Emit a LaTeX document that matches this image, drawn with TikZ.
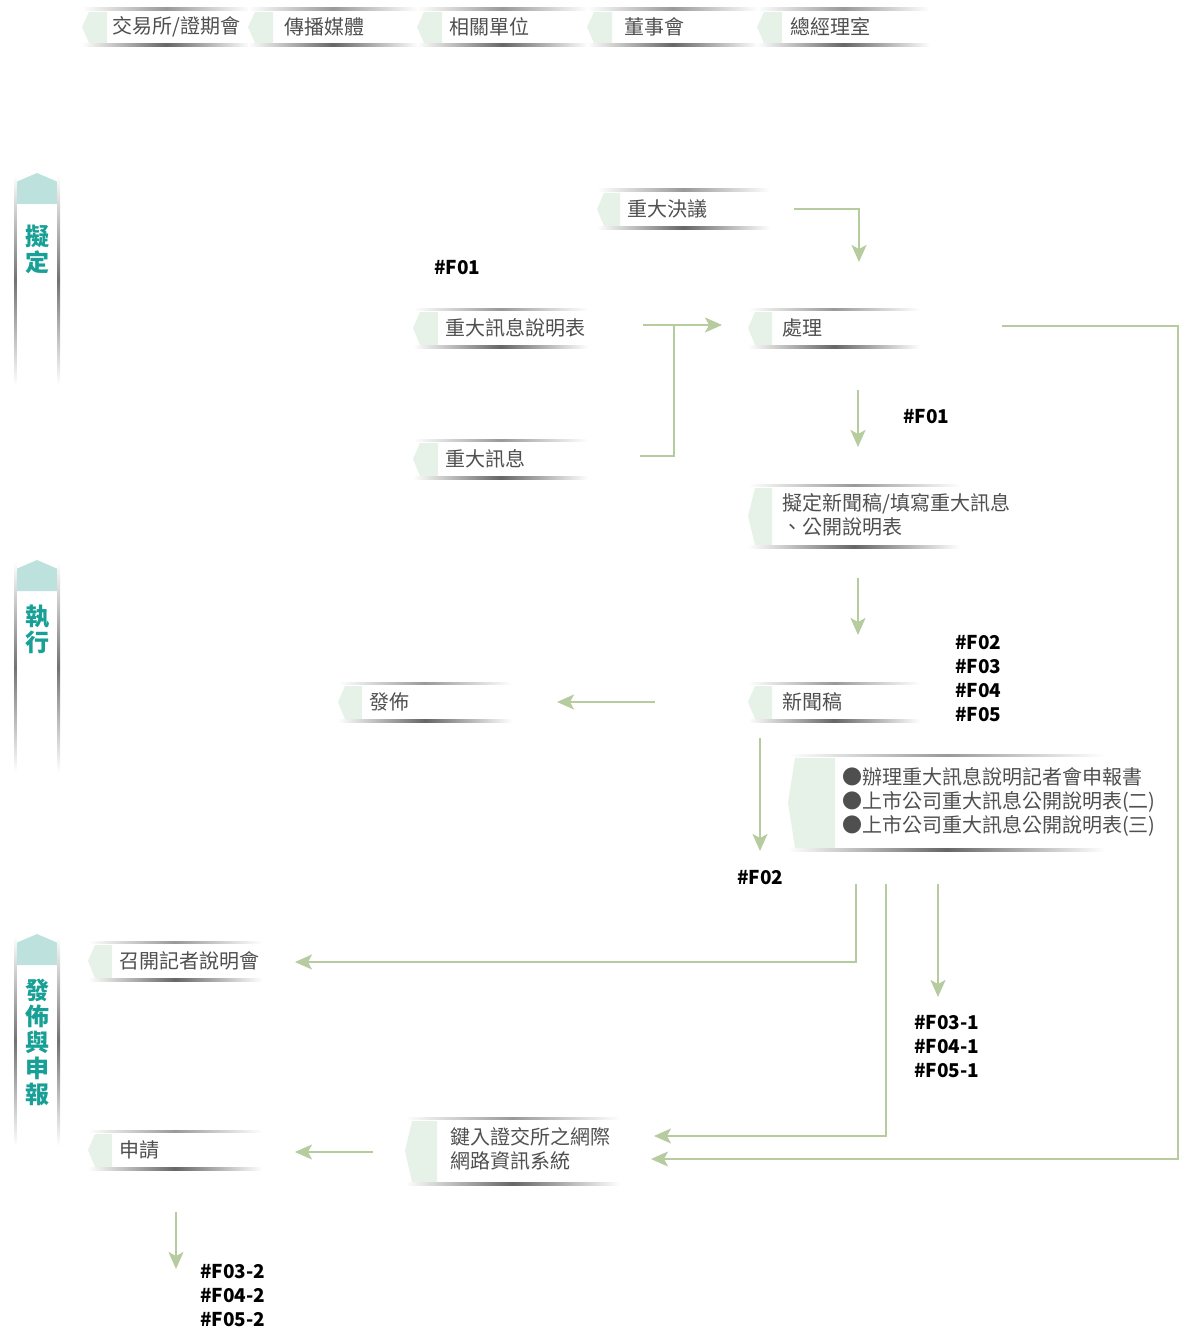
\documentclass[tikz,border=0pt]{standalone}
\usepackage{fontspec}
\setmainfont{Noto Sans CJK TC}
\usetikzlibrary{arrows.meta}
\definecolor{arr}{HTML}{B6CB9E}
\definecolor{tabg}{HTML}{E6F2E8}
\definecolor{laneg}{HTML}{BDE2DE}
\definecolor{lanetxt}{HTML}{18A096}
\definecolor{txtc}{HTML}{4F4F4F}
\newcommand\pbx[5]{%
  \fill[tabg] (#1,{(#3+#4)/2}) -- (#1+7,#3+3) -- (#1+#5,#3+3) -- (#1+#5,#4-2) -- (#1+7,#4-2) -- cycle;
  \shade[left color=white,right color=white,middle color=black!40] (#1,#3-1) rectangle (#2,#3+1.2);
  \shade[left color=white,right color=white,middle color=black!60] (#1,#4-1.5) rectangle (#2,#4+1.5);
}
\newcommand\lanebx[3]{%
  \fill[laneg] (16,#1+9) -- (37,#1) -- (58,#1+9) -- (58,#2) -- (16,#2) -- cycle;
  \shade[top color=white,bottom color=white,middle color=black!55] (14,#1+2) rectangle (16.5,#3);
  \shade[top color=white,bottom color=white,middle color=black!55] (57.5,#1+2) rectangle (60,#3);
}
\begin{document}
\begin{tikzpicture}[x=1pt,y=-1pt,
  btxt/.style={anchor=west,text=txtc,font=\fontsize{20}{24}\selectfont,inner sep=0pt,align=left},
  lbl/.style={anchor=west,text=black,font=\bfseries\fontsize{19}{24}\selectfont,inner sep=0pt,align=left},
  lanetext/.style={text=lanetxt,font=\bfseries\fontsize{24}{26}\selectfont,inner sep=0pt,align=center},
  conn/.style={draw=arr,line width=2pt,-{Stealth[length=17pt,width=15pt,inset=4pt]}},
  plainline/.style={draw=arr,line width=2pt}]
\useasboundingbox (0,0) rectangle (1182,1332);
% lanes
\lanebx{173}{204}{385}
\lanebx{560}{591}{772}
\lanebx{934}{965}{1146}
\node[lanetext] (L1) at (37,249) {擬\\定};
\node[lanetext] (L2) at (37,629) {執\\行};
\node[lanetext] (L3) at (37,1042) {發\\佈\\與\\申\\報};
% header boxes
\pbx{82}{250}{9}{45}{25}
\pbx{248}{418}{9}{45}{25}
\pbx{417}{588}{9}{45}{25}
\pbx{587}{758}{9}{45}{25}
\pbx{757}{930}{9}{45}{25}
\node[btxt] (h1) at (112,27) {交易所/證期會};
\node[btxt] (h2) at (284,27) {傳播媒體};
\node[btxt] (h3) at (449,27) {相關單位};
\node[btxt] (h4) at (624,27) {董事會};
\node[btxt] (h5) at (790,27) {總經理室};
% body boxes
\pbx{597}{770}{190}{228}{23}
\node[btxt] (b1) at (627,209) {重大決議};
\pbx{413}{588}{309}{347}{25}
\node[btxt] (b2) at (445,328) {重大訊息說明表};
\pbx{748}{920}{309}{347}{24}
\node[btxt] (b3) at (782,328) {處理};
\pbx{413}{588}{440}{478}{25}
\node[btxt] (b4) at (445,459) {重大訊息};
\pbx{748}{960}{485}{547}{24}
\node[btxt] (b5) at (782,515) {擬定新聞稿/填寫重大訊息\\、公開說明表};
\pbx{338}{512}{683}{721}{24}
\node[btxt] (b6) at (369,702) {發佈};
\pbx{748}{920}{683}{721}{24}
\node[btxt] (b7) at (782,702) {新聞稿};
\pbx{788}{1105}{755}{850}{47}
\node[btxt] (b8) at (842,802) {●辦理重大訊息說明記者會申報書\\●上市公司重大訊息公開說明表(二)\\●上市公司重大訊息公開說明表(三)};
\pbx{88}{262}{942}{980}{24}
\node[btxt] (b9) at (119,961) {召開記者說明會};
\pbx{88}{262}{1131}{1169}{24}
\node[btxt] (b10) at (119,1150) {申請};
\pbx{405}{620}{1118}{1184}{32}
\node[btxt] (b11) at (450,1149) {鍵入證交所之網際\\網路資訊系統};
% labels
\node[lbl] (f1) at (434,268) {\#F01};
\node[lbl] (f2) at (903,417) {\#F01};
\node[lbl] (f3) at (955,679) {\#F02\\\#F03\\\#F04\\\#F05};
\node[lbl] (f4) at (737,878) {\#F02};
\node[lbl] (f5) at (914,1047) {\#F03-1\\\#F04-1\\\#F05-1};
\node[lbl] (f6) at (200,1296) {\#F03-2\\\#F04-2\\\#F05-2};
% connector coordinates
\coordinate (a1s) at (794,209); \coordinate (a1e) at (859,262);
\coordinate (a2s) at (643,325); \coordinate (a2e) at (722,325); \coordinate (a2j) at (674,325);
\coordinate (a3s) at (640,456);
\coordinate (a4s) at (858,390); \coordinate (a4e) at (858,447);
\coordinate (a5s) at (1002,326); \coordinate (a5c) at (1178,326); \coordinate (a5e) at (651,1159);
\coordinate (a6s) at (858,578); \coordinate (a6e) at (858,635);
\coordinate (a7s) at (655,702); \coordinate (a7e) at (557,702);
\coordinate (a8s) at (760,738); \coordinate (a8e) at (760,851);
\coordinate (a9s) at (856,884); \coordinate (a9e) at (295,962);
\coordinate (a10s) at (886,884); \coordinate (a10e) at (654,1136);
\coordinate (a11s) at (938,884); \coordinate (a11e) at (938,997);
\coordinate (a12s) at (373,1152); \coordinate (a12e) at (295,1152);
\coordinate (a13s) at (176,1212); \coordinate (a13e) at (176,1269);
% connectors
\draw[conn] (a1s) -| (a1e);
\draw[conn] (a2s) -- (a2e);
\draw[plainline] (a3s) -| (a2j);
\draw[conn] (a4s) -- (a4e);
\draw[conn] (a5s) -- (a5c) |- (a5e);
\draw[conn] (a6s) -- (a6e);
\draw[conn] (a7s) -- (a7e);
\draw[conn] (a8s) -- (a8e);
\draw[conn] (a9s) |- (a9e);
\draw[conn] (a10s) |- (a10e);
\draw[conn] (a11s) -- (a11e);
\draw[conn] (a12s) -- (a12e);
\draw[conn] (a13s) -- (a13e);
\end{tikzpicture}
\end{document}
